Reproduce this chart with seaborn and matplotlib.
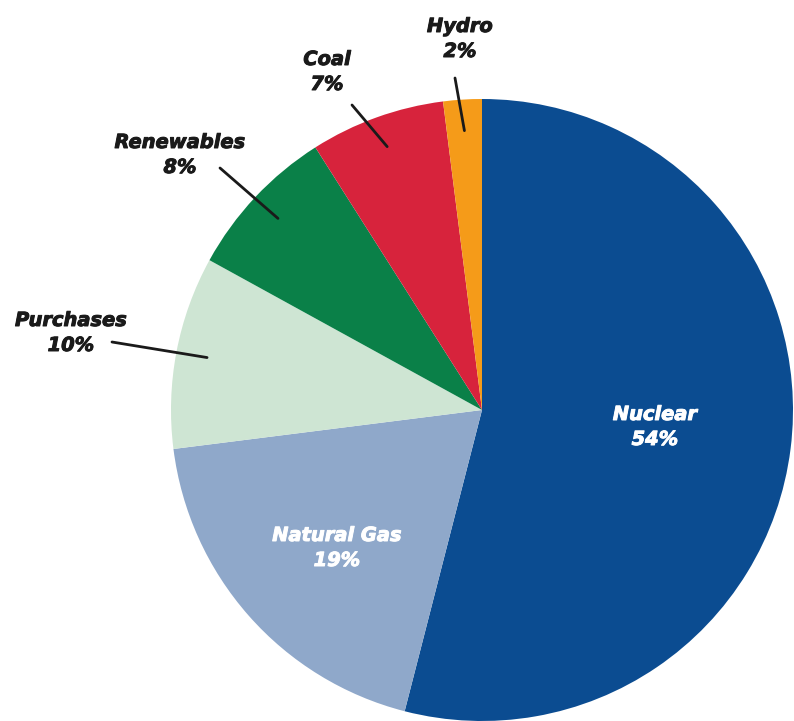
import numpy as np
import matplotlib
matplotlib.use("Agg")
import matplotlib.pyplot as plt
import matplotlib.patheffects as pe
import seaborn as sns

# data
sources = ["Nuclear", "Natural Gas", "Purchases", "Renewables", "Coal", "Hydro"]
shares = [54, 19, 10, 8, 7, 2]
colors = ["#0b4c91", "#8fa8ca", "#cee5d3", "#0a8048", "#d7233c", "#f59b19"]

W, H = 794, 721


def top(y):
    # pixel y measured from the top -> data y
    return H - y


def main():
    sns.set_theme(style="white")
    plt.rcParams['font.family'] = ['DejaVu Sans']

    fig = plt.figure(figsize=(W / 100, H / 100), dpi=100)
    ax = fig.add_axes([0, 0, 1, 1])

    cx, cy, R = 482, top(410), 311
    wedges, _ = ax.pie(shares, colors=colors, startangle=90, counterclock=False,
                       radius=R, center=(cx, cy), frame=True,
                       wedgeprops=dict(linewidth=0))
    ax.set_xlim(0, W)
    ax.set_ylim(0, H)
    ax.axis("off")

    font = dict(fontsize=14, fontweight="bold", fontstyle="italic",
                ha="center", va="center", linespacing=1.4)

    # labels inside the big slices
    inside = {"Nuclear": (655, 427), "Natural Gas": (337, 548)}
    # labels outside, with leader start points
    outside = {
        "Purchases": ((71, 333), (112, 342)),
        "Renewables": ((180, 155), (220, 168)),
        "Coal": ((327, 72), (352, 105)),
        "Hydro": ((460, 39), (455, 78)),
    }

    for w, name, val in zip(wedges, sources, shares):
        txt = f"{name}\n{val}%"
        if name in inside:
            x, y = inside[name]
            t = ax.text(x, top(y), txt, color="white", **font)
            t.set_path_effects([pe.withStroke(linewidth=0.7, foreground="white")])
        else:
            (x, y), (lx, ly) = outside[name]
            ang = np.deg2rad((w.theta1 + w.theta2) / 2)
            px = cx + 0.9 * R * np.cos(ang)
            py = cy + 0.9 * R * np.sin(ang)
            t = ax.text(x, top(y), txt, color="#1a1a1a", **font)
            t.set_path_effects([pe.withStroke(linewidth=0.7, foreground="#1a1a1a")])
            ax.plot([lx, px], [top(ly), py], color="#1a1a1a", lw=2,
                    solid_capstyle="round")

    fig.savefig("out.png", dpi=100, facecolor="white")


if __name__ == "__main__":
    main()
